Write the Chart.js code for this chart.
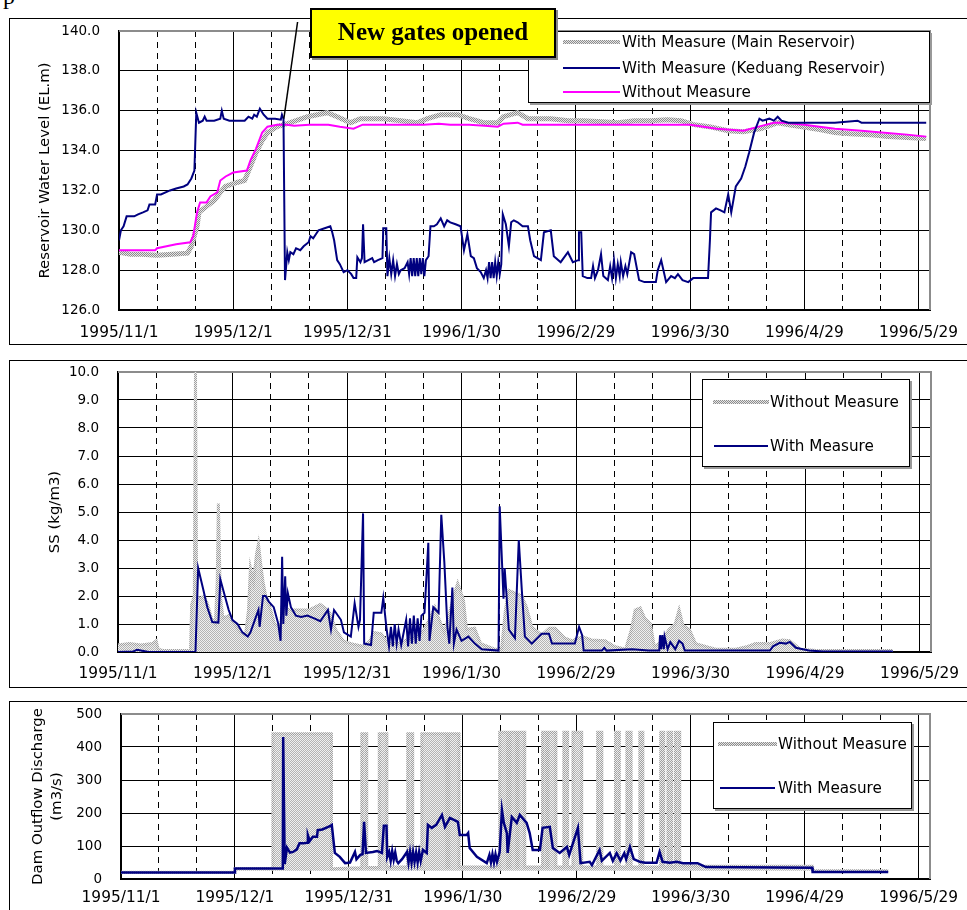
<!DOCTYPE html>
<html>
<head>
<meta charset="utf-8">
<script src="https://cdn.jsdelivr.net/npm/chart.js@4.4.1/dist/chart.umd.min.js"></script>
<style>
  body { margin: 0; background: #fff; width: 967px; height: 910px; overflow: hidden; position: relative;
         font-family: 'DejaVu Sans', sans-serif; }
  canvas { position: absolute; left: 0; }
  .frame { position: absolute; left: 9px; width: 1000px; border: 1.5px solid #000; box-sizing: border-box; }
  .legend { position: absolute; background: #fff; border: 1px solid #000; box-shadow: 2px 2px 0 #999; box-sizing: border-box; }
  .item { position: absolute; font-size: 15.2px; line-height: 20px; white-space: nowrap; color: #000; }
  .sample { position: absolute; }
  .grey { height: 4px; background: repeating-conic-gradient(#8c8c8c 0 25%, #e6e6e6 0 50%) 0 0 / 2px 2px; }
  .navy { height: 2px; background: #000080; }
  .pink { height: 2px; background: #ff00ff; }
  .callout { position: absolute; left: 310px; top: 8px; width: 246px; height: 50px; background: #ffff00;
             border: 2px solid #000; box-shadow: 2px 2px 0 #888; box-sizing: border-box;
             font: bold 25px 'Liberation Serif', serif; text-align: center; line-height: 44px; }
</style>
</head>
<body>
<div style="position:absolute;left:3px;top:-17px;font:24px 'Liberation Serif',serif;">p</div>

<div class="frame" style="top:18px;height:327px;"></div>
<div class="frame" style="top:360px;height:328px;"></div>
<div class="frame" style="top:701px;height:230px;"></div>

<canvas id="c1" width="1010" height="327" style="top:18px;width:1010px;height:327px;"></canvas>
<canvas id="c2" width="1010" height="328" style="top:360px;width:1010px;height:328px;"></canvas>
<canvas id="c3" width="1010" height="209" style="top:701px;width:1010px;height:209px;"></canvas>

<!-- legend, top panel -->
<div class="legend" style="left:528px;top:31px;width:402px;height:72px;"></div>
<div class="sample grey" style="left:563px;top:40px;width:57px;"></div>
<div class="item" style="left:622px;top:32px;">With Measure (Main Reservoir)</div>
<div class="sample navy" style="left:563px;top:67px;width:57px;"></div>
<div class="item" style="left:622px;top:58px;">With Measure (Keduang Reservoir)</div>
<div class="sample pink" style="left:563px;top:91px;width:57px;"></div>
<div class="item" style="left:622px;top:82px;">Without Measure</div>

<!-- legend, SS panel -->
<div class="legend" style="left:702px;top:379px;width:208px;height:88px;"></div>
<div class="sample grey" style="left:713px;top:400px;width:56px;"></div>
<div class="item" style="left:770px;top:392px;">Without Measure</div>
<div class="sample navy" style="left:714px;top:445px;width:54px;"></div>
<div class="item" style="left:770px;top:436px;">With Measure</div>

<!-- legend, discharge panel -->
<div class="legend" style="left:713px;top:722px;width:199px;height:87px;"></div>
<div class="sample grey" style="left:718px;top:742px;width:59px;"></div>
<div class="item" style="left:778px;top:734px;">Without Measure</div>
<div class="sample navy" style="left:720px;top:787px;width:55px;"></div>
<div class="item" style="left:778px;top:778px;">With Measure</div>

<div class="callout">New gates opened</div>

<script>
// x values are days counted from 1995/11/1
const dateLabels = ['1995/11/1', '1995/12/1', '1995/12/31', '1996/1/30', '1996/2/29', '1996/3/30', '1996/4/29', '1996/5/29'];

// reservoir water level (EL.m)
const levelKeduang = [[0,129.5],[0.5,130.0],[1.2,130.2],[2,130.7],[4,130.7],[5,130.8],[6.3,130.9],[7.5,131.0],[8,131.3],[9.5,131.3],[10,131.8],[11,131.8],[13.4,132.0],[15,132.1],[17,132.2],[18,132.3],[19,132.6],[19.8,133.0],[20.3,135.9],[21,135.4],[22,135.5],[22.5,135.7],[23,135.5],[25,135.5],[26.6,135.6],[27,136.0],[27.5,135.6],[29,135.5],[31,135.5],[33,135.5],[34,135.7],[35,135.6],[35.5,135.8],[36.2,135.7],[37,136.1],[38,135.8],[39,135.6],[41,135.6],[42.5,135.55],[42.8,135.8],[43.2,135.6],[43.6,127.5],[44.2,128.9],[44.6,128.5],[45,128.9],[45.8,128.8],[46.5,129.1],[47.6,129.0],[48.5,129.2],[49.8,129.4],[50.3,129.7],[51,129.6],[52.4,130.0],[54,130.1],[55.5,130.2],[56,129.9],[56.5,129.5],[57.3,128.5],[58,128.3],[59,127.9],[60,128.0],[61,127.8],[61.6,127.6],[62.3,127.6],[62.6,128.65],[63.4,128.4],[63.8,128.6],[64.1,130.3],[64.5,128.4],[65.5,128.5],[66.5,128.6],[67,128.4],[68,128.5],[69.2,128.6],[69.4,130.1],[70.2,130.1],[70.5,127.7],[71,128.6],[71.5,127.8],[72,128.5],[72.5,127.7],[73,128.3],[73.5,127.8],[74,128.0],[75,128.1],[75.8,128.4],[76.2,127.8],[76.6,128.6],[77,127.7],[77.4,128.6],[77.8,127.7],[78.2,128.6],[78.6,127.7],[79,128.6],[79.4,127.8],[79.8,128.6],[80.2,127.7],[80.6,128.5],[81.3,128.7],[81.8,130.2],[82.7,130.2],[83.5,130.3],[84.5,130.6],[85.4,130.2],[86.2,130.5],[87,130.4],[88.4,130.3],[89.7,130.2],[90.6,129.0],[91.5,129.8],[92.4,128.7],[93.2,128.6],[94,128.1],[95,127.9],[95.8,127.6],[96.4,128.0],[96.8,127.6],[97.2,128.4],[97.6,127.6],[98,128.4],[98.4,127.6],[98.8,128.4],[99.2,127.7],[99.6,128.4],[100,127.8],[100.4,128.3],[100.8,130.8],[101.6,130.3],[102.4,129.2],[103,130.4],[103.7,130.5],[104.7,130.4],[106,130.2],[107.4,130.2],[108,129.5],[109,128.7],[110.8,128.5],[111.6,129.9],[113.4,130.0],[114.2,128.7],[116,128.4],[117.9,128.9],[119.2,128.4],[120.6,128.5],[120.8,129.9],[121.4,129.9],[121.8,127.7],[123,127.6],[124,127.6],[124.5,128.2],[125,127.6],[125.8,128.0],[126.6,128.8],[127.2,127.7],[128.4,127.5],[129,128.2],[129.5,127.6],[130,128.5],[130.5,127.6],[131,128.3],[131.5,127.7],[131.8,128.4],[132.4,127.7],[133,128.2],[133.5,127.8],[134.5,128.9],[135.3,128.8],[136.6,127.5],[138,127.4],[141,127.4],[141.5,128.0],[142.4,128.5],[143.7,127.4],[145,127.7],[146,127.6],[146.8,127.8],[148,127.5],[149.5,127.4],[150.8,127.6],[154.7,127.6],[155.2,129.5],[155.5,130.9],[156.8,131.1],[158,131.0],[159,130.9],[160,131.8],[160.8,130.9],[162,132.2],[163.4,132.6],[164.5,133.2],[165.5,133.9],[166.8,134.9],[168.2,135.6],[169,135.5],[170.8,135.6],[172,135.5],[173,135.7],[174,135.5],[175.8,135.4],[180,135.4],[185,135.4],[188,135.4],[194,135.5],[195,135.4],[200,135.4],[205,135.4],[210,135.4],[212,135.4]];
const levelMain = [[0,128.9],[3,128.8],[6,128.8],[10,128.75],[14,128.8],[18,128.85],[19,129.2],[20.5,130.2],[21,130.9],[23,131.2],[25,131.5],[26.6,131.9],[28,132.2],[31,132.4],[33,132.5],[34.5,133.2],[36,133.9],[37.6,134.5],[39,134.9],[41.5,135.2],[45,135.4],[49.5,135.7],[52,135.8],[54.7,135.9],[57.3,135.7],[60.8,135.4],[63.4,135.6],[69.5,135.6],[74,135.5],[78.4,135.4],[81,135.6],[84.5,135.8],[89,135.8],[92,135.6],[95.8,135.4],[99.5,135.4],[101,135.7],[104.7,135.9],[107.4,135.6],[113.4,135.6],[118,135.5],[122,135.5],[127,135.45],[131,135.4],[135.3,135.5],[139.7,135.5],[144,135.55],[147.6,135.5],[151,135.3],[155,135.2],[160,135.0],[164,134.95],[168.7,135.1],[173,135.4],[176,135.3],[179,135.2],[184,135.05],[188,134.9],[192,134.85],[197,134.8],[202,134.7],[207,134.65],[212,134.6]];
const levelWithout = [[0,129.0],[9.5,129.0],[10,129.1],[15,129.3],[18.7,129.4],[19.5,129.7],[20.5,130.9],[21.3,131.4],[23,131.4],[24,131.7],[25.8,131.9],[26.6,132.5],[28,132.7],[30,132.9],[33.6,133.0],[34.5,133.5],[36,134.1],[37.6,134.9],[39,135.2],[41.5,135.3],[44,135.3],[46,135.25],[50,135.3],[55,135.3],[58,135.2],[61.6,135.1],[64,135.3],[70,135.3],[80,135.3],[84,135.35],[87,135.3],[92,135.3],[96,135.25],[99.5,135.2],[101,135.35],[104.7,135.4],[106,135.3],[115,135.3],[125,135.3],[135,135.3],[145,135.3],[150,135.3],[157,135.1],[164,135.0],[168,135.2],[172,135.4],[174.7,135.4],[180,135.3],[188,135.1],[195,135.0],[201,134.9],[207,134.8],[212,134.7]];

// suspended sediment (kg/m3)
const ssWithout = [[0,0.25],[3,0.3],[6,0.25],[9,0.3],[10,0.4],[10.5,0.1],[12,0.05],[19,0.05],[19.3,1.7],[20,2.0],[20.3,10.0],[20.6,2.0],[21.5,1.9],[22.5,2.0],[23.5,1.7],[24.5,1.2],[25.5,1.0],[26,2.5],[26.3,5.3],[26.8,2.0],[27.5,1.2],[29,1.3],[30,1.1],[31,0.9],[32,0.7],[33.4,0.6],[34.2,1.5],[34.7,3.0],[35.5,2.5],[36.3,3.5],[36.8,3.85],[37.5,3.0],[38,2.5],[38.7,2.0],[40,1.5],[41,1.0],[42.6,0.9],[43,1.6],[45,1.5],[48,1.5],[50,1.5],[53,1.7],[55,1.5],[55.8,1.3],[57,0.8],[59,0.4],[61,0.3],[64.5,0.2],[66,0.4],[67,0.7],[69,0.65],[70.8,0.3],[73.4,0.3],[77,0.5],[79.5,0.65],[81,1.0],[83,1.6],[84,1.2],[85.5,0.7],[86.5,1.2],[88,2.0],[89,2.45],[90.5,1.86],[91.3,0.8],[93.4,0.85],[95,0.3],[98.7,0.1],[100.5,0.1],[101.5,1.5],[102.4,2.2],[104,2.1],[105.8,2.0],[107,1.6],[108.4,0.9],[111,0.6],[113,0.85],[114.5,0.85],[117,0.5],[119,0.4],[121.6,0.55],[124,0.43],[127.6,0.4],[130,0.2],[133,0.1],[134.5,0.8],[135.5,1.5],[136.8,1.57],[138,1.2],[139.5,1.0],[140.5,0.2],[141.8,0.3],[144.4,0.8],[146,1.0],[147,1.5],[148,0.95],[149.7,0.8],[151.3,0.3],[156.6,0.1],[161.8,0.1],[165,0.2],[167,0.3],[170.7,0.3],[174,0.43],[176,0.4],[178.7,0.1],[183,0.05],[203,0.05]];
const ssWith = [[0,0],[4,0.02],[5,0.08],[6,0.05],[8,0],[20.3,0],[21,3.0],[22.4,2.2],[23.4,1.6],[24.7,1.07],[26.3,1.05],[26.8,2.6],[27.6,2.2],[29,1.5],[30,1.14],[31.3,1.0],[32.6,0.7],[34,0.55],[34.7,0.7],[36,1.2],[36.8,1.5],[37.1,0.9],[38,2.0],[38.7,2.0],[39.5,1.8],[40.8,1.6],[42,1.0],[42.6,0.4],[43,3.4],[43.3,1.0],[43.8,2.7],[44.1,1.3],[44.5,2.1],[45.3,1.6],[46.6,1.3],[48,1.25],[49.6,1.3],[51.4,1.2],[53,1.1],[55,1.5],[55.8,0.8],[56.6,1.5],[58.4,1.15],[59.2,0.7],[61,0.55],[62,1.74],[63,0.9],[63.4,1.15],[64.2,4.95],[64.5,0.3],[66.3,0.25],[67,1.4],[69,1.4],[69.5,1.93],[70.3,0.9],[71,0.2],[71.5,0.9],[72,0.2],[72.5,1.0],[73,0.3],[73.5,0.8],[74.2,0.25],[75.5,1.15],[76,0.2],[76.5,1.2],[77,0.3],[77.5,1.3],[78,0.3],[78.5,1.2],[79,0.4],[79.5,1.3],[80.3,1.4],[81.3,3.9],[81.6,0.4],[82.6,1.6],[84,1.4],[84.7,4.9],[85.5,3.2],[86.3,0.9],[86.8,0.3],[87.6,2.3],[88,0.3],[88.7,0.8],[90,0.4],[91.8,0.55],[93.5,0.3],[95.3,0.1],[99.7,0.05],[100,5.2],[101,1.9],[101.3,3.0],[102.4,0.8],[104,0.5],[105,4.0],[105.8,2.2],[106.6,0.55],[108.4,0.3],[111,0.65],[112.9,0.65],[113.7,0.3],[119.7,0.3],[120.8,0.9],[121.6,0.6],[122,0.05],[126.8,0.05],[127.4,0.15],[128,0.05],[134.7,0.1],[139,0.05],[141.8,0.05],[142,0.6],[142.3,0.1],[142.6,0.6],[143,0.1],[143.2,0.55],[144,0.1],[144.7,0.35],[146,0.1],[147,0.4],[147.9,0.3],[148.5,0.05],[170.8,0.05],[171.6,0.2],[173.4,0.33],[175,0.3],[176,0.36],[177.6,0.15],[181,0.05],[184.7,0.02],[203,0.02]];

// dam outflow discharge (m3/s)
const flowWithout = [[0,20],[30,20],[30,32],[40,32],[40,440],[55.4,440],[55.4,30],[57,32],[63.4,34],[63.4,440],[64.7,440],[64.7,35],[68,35],[68,440],[70,440],[70,36],[75.5,36],[75.5,440],[76.8,440],[76.8,36],[79.2,36],[79.2,440],[85.8,440],[85.8,36],[86.3,36],[86.3,440],[89,440],[89,36],[99.7,36],[99.7,445],[101.8,445],[101.8,36],[102.4,36],[102.4,445],[104.2,445],[104.2,36],[104.5,36],[104.5,445],[106.3,445],[106.3,36],[111,36],[111,445],[112.1,445],[112.1,36],[112.4,36],[112.4,445],[114.5,445],[114.5,36],[116.6,36],[116.6,445],[117.6,445],[117.6,36],[119,36],[119,445],[121.3,445],[121.3,36],[125.5,36],[125.5,445],[126.6,445],[126.6,36],[130.2,36],[130.2,445],[131.2,445],[131.2,36],[133.2,36],[133.2,445],[134.3,445],[134.3,36],[136.6,36],[136.6,445],[137.4,445],[137.4,36],[142.1,36],[142.1,445],[142.9,445],[142.9,36],[144,36],[144,445],[145,445],[145,36],[146,36],[146,445],[147.1,445],[147.1,40],[151,39],[182,39],[182.1,25],[202,25]];
const flowWith = [[0,20],[30,20],[30,32],[42.6,32],[42.7,430],[43.1,45],[43.7,95],[44.5,80],[45.3,82],[46.3,90],[47,108],[48,108],[49,110],[49.2,133],[49.7,115],[50.5,128],[51.6,128],[51.8,148],[53,150],[55,160],[55.5,164],[56.3,79],[57.6,67],[59,48],[60.3,50],[61.6,82],[62,60],[63,73],[63.6,75],[64,173],[64.5,79],[66.3,82],[67.4,85],[68.7,79],[69.2,161],[69.9,161],[70.1,67],[70.6,82],[71,55],[71.4,85],[71.8,58],[72.2,80],[72.6,55],[73,48],[74,60],[75.3,82],[75.7,50],[76.1,82],[76.5,50],[76.9,82],[77.3,52],[77.7,80],[78.1,50],[78.5,82],[78.9,55],[79.5,88],[80.5,79],[80.8,164],[81.8,155],[83,164],[84.5,194],[85.3,158],[86.6,185],[88.7,173],[89.2,133],[91,133],[91.4,139],[91.8,94],[93.7,67],[96.3,48],[97,73],[97.4,50],[97.8,75],[98.2,50],[98.6,75],[99,52],[99.7,82],[100.3,209],[100.8,170],[101.6,139],[101.8,79],[102.9,188],[104.2,170],[105,194],[106.8,170],[107.6,139],[108.4,88],[110.3,88],[111,155],[112.9,158],[113.7,94],[115.5,79],[117.4,97],[118,73],[120.3,155],[121,48],[123.4,52],[124,42],[126,88],[126.6,55],[128.7,79],[129.5,55],[130.5,78],[131.5,56],[132.5,78],[133,60],[134,97],[135,60],[136.6,52],[138,49],[141,49],[141.8,82],[142.6,52],[144.5,49],[146.3,52],[148,48],[151.8,48],[154,36],[182,34],[182.1,21],[202,21]];

Chart.defaults.font.family = "'DejaVu Sans', sans-serif";
Chart.defaults.color = '#000';
Chart.defaults.animation = false;

// grey dotted texture for the "main reservoir" / "without measure" lines
function hatch(ctx, dark, light) {
    const c = document.createElement('canvas');
    c.width = 2; c.height = 2;
    const g = c.getContext('2d');
    g.fillStyle = light; g.fillRect(0, 0, 2, 2);
    g.fillStyle = dark; g.fillRect(0, 0, 1, 1); g.fillRect(1, 1, 1, 1);
    return ctx.createPattern(c, 'repeat');
}

const pts = arr => arr.map(([x, y]) => ({x, y}));

// grey border on top and right of the plot area
const plotFrame = {
    id: 'plotFrame',
    beforeDatasetsDraw(chart) {
        const {ctx, chartArea: a} = chart;
        ctx.save();
        ctx.strokeStyle = '#8c8c8c';
        ctx.lineWidth = 2;
        ctx.beginPath();
        ctx.moveTo(a.left, a.top);
        ctx.lineTo(a.right, a.top);
        ctx.lineTo(a.right, a.bottom);
        ctx.stroke();
        ctx.restore();
    }
};

// pointer from the "New gates opened" box to the drop of the Keduang level
const gatePointer = {
    id: 'gatePointer',
    afterDatasetsDraw(chart) {
        const {ctx, chartArea: a, scales: {x, y}} = chart;
        ctx.save();
        ctx.strokeStyle = '#000';
        ctx.lineWidth = 1.5;
        ctx.beginPath();
        ctx.moveTo(x.getPixelForValue(43.3), y.getPixelForValue(135.6));
        ctx.lineTo(x.getPixelForValue(46.9), a.top - 9);
        ctx.stroke();
        ctx.restore();
    }
};

function xAxis(height, pad) {
    return {
        type: 'linear', min: 0, max: 213,
        afterFit: s => { s.height = height; },
        ticks: {
            stepSize: 10, includeBounds: false, autoSkip: false, maxRotation: 0, padding: pad,
            font: {size: 15.4},
            callback: v => v % 30 === 0 ? dateLabels[v / 30] : ''
        },
        grid: {color: '#000', lineWidth: 1, drawTicks: false},
        border: {color: '#000', width: 2, dash: c => (c.tick && c.tick.value % 30 !== 0) ? [6, 5] : []}
    };
}

function yAxis(width, min, max, step, digits, title, titlePad) {
    return {
        min: min, max: max,
        // fixed axis width; drop the label overhang so the plot top stays where the layout padding puts it
        afterFit: s => { s.width = width; s.paddingTop = 0; s.paddingBottom = 0; },
        ticks: {stepSize: step, padding: 19, font: {size: 13.5}, callback: v => v.toFixed(digits)},
        grid: {color: '#000', lineWidth: 1, drawTicks: false},
        border: {color: '#000', width: 2},
        title: {display: true, text: title, font: {size: 14.9, lineHeight: 1.27}, padding: {top: titlePad, bottom: 0}}
    };
}

const lineOpts = {pointRadius: 0, tension: 0, fill: false};

function makeChart(id, datasets, scales, padding, extra) {
    return new Chart(document.getElementById(id), {
        type: 'line',
        data: {datasets: datasets.map(d => Object.assign({}, lineOpts, d))},
        options: {
            responsive: false,
            animation: false,
            layout: {padding: padding},
            plugins: {legend: {display: false}, tooltip: {enabled: false}},
            scales: scales
        },
        plugins: [plotFrame].concat(extra || [])
    });
}

const ctx1 = document.getElementById('c1').getContext('2d');
makeChart('c1', [
    {data: pts(levelKeduang), borderColor: '#000080', borderWidth: 2},
    {data: pts(levelWithout), borderColor: '#ff00ff', borderWidth: 2},
    {data: pts(levelMain), borderColor: hatch(ctx1, '#8c8c8c', '#e6e6e6'), borderWidth: 5}
], {
    x: xAxis(35, 14),
    y: yAxis(119, 126, 140, 2, 1, 'Reservoir Water Level (EL.m)', 35.5)
}, {left: 0, right: 80, top: 13, bottom: 0}, [gatePointer]);

const ctx2 = document.getElementById('c2').getContext('2d');
makeChart('c2', [
    {data: pts(ssWith), borderColor: '#000080', borderWidth: 2},
    {data: pts(ssWithout), borderColor: hatch(ctx2, '#a0a0a0', '#ececec'), backgroundColor: hatch(ctx2, '#b4b4b4', '#f0f0f0'),
     borderWidth: 3, fill: 'origin'}
], {
    x: xAxis(36, 13),
    y: yAxis(118, 0, 10, 1, 1, 'SS (kg/m3)', 45.5)
}, {left: 0, right: 79, top: 12, bottom: 0});

const ctx3 = document.getElementById('c3').getContext('2d');
makeChart('c3', [
    {data: pts(flowWith), borderColor: '#000080', borderWidth: 2.5},
    {data: pts(flowWithout), borderColor: hatch(ctx3, '#a0a0a0', '#ececec'), backgroundColor: hatch(ctx3, '#b4b4b4', '#f0f0f0'),
     borderWidth: 3, fill: {value: 25}}
], {
    x: xAxis(31, 10),
    y: yAxis(121, 0, 500, 100, 0, ['Dam Outflow Discharge', '(m3/s)'], 28.5)
}, {left: 0, right: 80, top: 13, bottom: 0});
</script>
</body>
</html>
